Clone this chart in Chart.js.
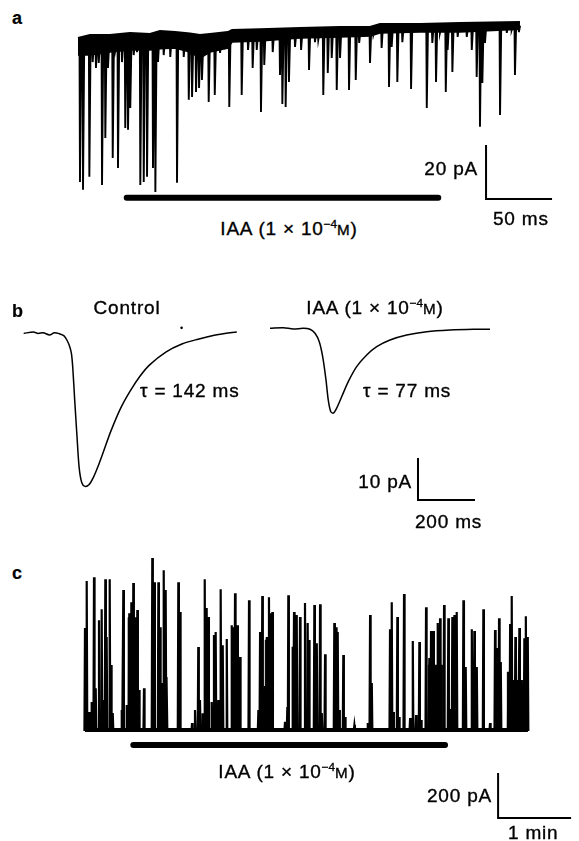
<!DOCTYPE html>
<html><head><meta charset="utf-8">
<script src="https://cdn.jsdelivr.net/npm/chart.js@4.4.1/dist/chart.umd.min.js"></script>
<style>
html,body{margin:0;padding:0;background:#fff;}
#fig{position:relative;width:579px;height:841px;overflow:hidden;font-family:"Liberation Sans",Arial,sans-serif;color:#000;}
#fig canvas{position:absolute;}
.t{position:absolute;font-size:19px;line-height:1;white-space:nowrap;letter-spacing:0.8px;z-index:5;-webkit-text-stroke:0.35px #000;}
.c{transform:translate(-50%,-50%);}
.l{transform:translate(0,-50%);}
.r{transform:translate(-100%,-50%);}
.p{font-weight:bold;font-size:18px;letter-spacing:0;-webkit-text-stroke:0.2px #000;}
.sup{font-size:0.62em;position:relative;top:-0.6em;letter-spacing:0;}
.sc{font-size:0.8em;}
</style></head><body>
<div id="fig">
<canvas id="ca"></canvas>
<canvas id="cb1"></canvas>
<canvas id="cb2"></canvas>
<canvas id="cc"></canvas>

<div class="t p l" style="left:12px;top:18px">a</div>
<div class="t r" style="left:478px;top:168px">20 pA</div>
<div class="t l" style="left:493px;top:218px">50 ms</div>
<div class="t c" style="left:289px;top:228px">IAA (1 × 10<span class="sup">−4</span><span class="sc">M</span>)</div>

<div class="t p l" style="left:12px;top:311px">b</div>
<div class="t c" style="left:127px;top:307px">Control</div>
<div class="t c" style="left:375px;top:307px">IAA (1 × 10<span class="sup">−4</span><span class="sc">M</span>)</div>
<div class="t l" style="left:140px;top:390px">τ = 142 ms</div>
<div class="t l" style="left:363px;top:390px">τ = 77 ms</div>
<div class="t r" style="left:412px;top:481px">10 pA</div>
<div class="t l" style="left:415px;top:521px">200 ms</div>

<div class="t p l" style="left:12px;top:573px">c</div>
<div class="t c" style="left:287px;top:771px">IAA (1 × 10<span class="sup">−4</span><span class="sc">M</span>)</div>
<div class="t r" style="left:492px;top:795px">200 pA</div>
<div class="t l" style="left:508px;top:832px">1 min</div>
</div>
<script>
// ---------------- DATA ----------------
// Panel a: miniature currents (time in ms, current in pA)
const aBandTime   = [0, 9.1, 24.2, 39.4, 54.5, 62.1, 73.5, 84.8, 92.4, 100, 113.6, 116.7, 137.9, 168.2, 198.5, 221.2, 228.8, 259.1, 289.4, 334.8];
const aBandTop    = [-5.2, -4.1, -4.1, -3.3, -3.7, -2.6, -3.0, -3.5, -4.1, -3.7, -3.0, -2.2, -1.9, -1.5, -1.1, -1.1, 0, 0, 0.4, 0.7];
const aBandBottom = [-11.5, -11.5, -10.4, -9.6, -9.6, -9.2, -8.9, -10.4, -12.6, -10.4, -8.9, -6.7, -6.3, -5.2, -4.8, -4.4, -3.3, -3.0, -3.0, -1.9];
const aEventTime  = [1.5, 3.8, 8.6, 13.6, 18.2, 20.7, 26.3, 30.3, 35.8, 37.9, 39.6, 47.2, 49.8, 52.3, 56.8, 58.6, 75, 83.9, 86.4, 89.4, 91.7, 99, 103.6, 114.6, 124, 128.8, 132.3, 138.6, 141.1, 147.5, 153, 154.8, 157.3, 159.8, 175, 185.8, 189.2, 196, 205.3, 210.4, 221.2, 230, 235.6, 241.9, 252.3, 264.2, 271.2, 278.6, 283.6, 298.3, 302, 304.5, 306.3, 319.7, 331];
const aEventPeak  = [-58.5, -61.4, -56.6, -16.3, -59.6, -42.2, -49.6, -53.3, -38.5, -39.2, -31.1, -59.6, -58.5, -56.6, -53.3, -62.2, -58.8, -28.1, -27.0, -25.2, -23.7, -28.9, -26.3, -30.7, -26.3, -9.6, -16.3, -32.6, -15.2, -10.4, -18.9, -29.6, -30.7, -21.5, -17.0, -26.3, -18.1, -24.4, -24.4, -20.7, -14.4, -8.9, -23.3, -21.5, -24.1, -31.1, -21.5, -25.2, -17.8, -9.6, -19.6, -38.1, -21.8, -33.7, -18.9];
const aSmallTime  = [11.1, 15.7, 22.7, 28.3, 33.3, 42.2, 44.7, 51.5, 60.6, 64.9, 69.9, 80.1, 93.9, 107.6, 111.4, 135.4, 164.4, 169, 179.5, 182, 192.2, 198.5, 213, 223.7, 237.6, 245.7, 268.4, 274.2, 280, 287.6, 294.5, 308.3, 324.8, 328.5, 334];
const aSmallPeak  = [-14.1, -14.4, -16.3, -9.6, -14.1, -11.5, -10.4, -12.6, -14.1, -11.5, -12.2, -12.2, -20.7, -10.7, -7.8, -9.6, -8.5, -9.6, -6.7, -5.9, -12.6, -12.6, -7.0, -4.1, -8.5, -6.7, -7.0, -3.3, -9.6, -4.8, -4.8, -7.0, -3.3, -2.2, -3.0];
const aDrugOn     = [36.9, 272.9];   // IAA application, ms
const aScaleSize  = [50, 20];        // ms, pA

// Panel b: averaged currents (time in ms, current in pA)
const bCtrlTime    = [0, 35.1, 52.6, 70.2, 93.7, 111.2, 128.8, 146.3, 157.9, 167.4, 173, 177.9, 184.9, 193, 201.1, 210.5, 222.1, 236.2, 251.6, 269.1, 292.3, 315.8, 350.9, 386, 421.1, 456.2, 514.8, 573, 631.6, 690.2, 748.5, 772];
const bCtrlCurrent = [-0.17, 0.17, -0.17, 0, -0.55, 0, -0.24, -0.79, -1.98, -3.57, -5.17, -8.73, -16.7, -25.4, -33.3, -36.9, -37.8, -37.4, -35.7, -32.9, -28.6, -24.2, -18.6, -14.3, -10.7, -7.9, -4.76, -2.78, -1.6, -0.64, 0, 0.17];
const bCtrlDot     = [572, 1.2];
const bIaaTime     = [0, 46.6, 81.7, 116.8, 140.3, 157.9, 172.9, 184.9, 196.5, 204.5, 213, 222.1, 234, 251.5, 274.7, 304.1, 339.3, 374.4, 421, 479.7, 549.8, 631.6, 713.4, 771.9];
const bIaaCurrent  = [0.40, 0.55, 0.24, 0.40, 0.17, -0.79, -2.78, -6.35, -11.9, -16.7, -19.4, -19.8, -18.6, -15.9, -12.3, -8.73, -5.95, -3.97, -2.38, -1.19, -0.40, 0, 0.17, 0.17];
const bScaleSize   = [200, 10];      // ms, pA

// Panel c: current events (time in s, amplitude in pA)
const cEventTime = [0, 1.4, 3.3, 5.5, 7.4, 8.8, 11.5, 13.7, 14.8, 16.7, 17.8, 20.3, 21.4, 22.8, 30.2, 31.5, 34.3, 36.4, 38.1, 39.7, 41.1, 43, 44.4, 48.5, 55.3, 57, 60.3, 61.7, 63, 64.7, 66.3, 67.2, 76.7, 78.1, 88, 90.4, 93.1, 94.5, 96.7, 98.4, 100, 101.4, 104.1, 106, 107.4, 109.6, 111.5, 113.2, 116.5, 120.6, 121.9, 123.3, 125.2, 127.4, 134.8, 142.5, 143.9, 145.7, 148, 149.4, 151.2, 152.6, 154, 164.4, 166.3, 167.1, 170.7, 171.8, 174, 176.7, 180.8, 183, 184.1, 188.5, 190.5, 193.2, 194.6, 197.3, 204.9, 206.3, 207.7, 209, 212.3, 213.7, 221.4, 232.4, 234.3, 235.7, 250.7, 252.1, 253.4, 256.7, 258.1, 262.2, 267.2, 269.4, 272.1, 274.8, 276.2, 280.3, 283, 284.4, 286.3, 287.7, 289.9, 291.8, 295.1, 298.6, 300, 301.9, 303.6, 305.5, 311, 312.9, 317.9, 320, 322, 327.4, 332.9, 337, 338.4, 340.3, 341.7, 348, 349.4, 350.7, 352.1, 353.7, 355.7, 357, 359, 361.1, 362.3, 363.9];
const cEventAmp  = [453, 662, 80, 124, 679, 186, 488, 537, 133, 670, 413, 670, 289, 75, 89, 622, 111, 519, 568, 653, 457, 533, 178, 186, 764, 657, 657, 457, 209, 710, 622, 235, 657, 524, 31, 89, 369, 133, 75, 670, 542, 502, 124, 422, 435, 133, 626, 377, 404, 466, 457, 608, 466, 324, 577, 89, 435, 595, 195, 413, 590, 519, 524, 36, 102, 599, 370, 524, 511, 502, 564, 475, 400, 555, 386, 559, 75, 337, 475, 457, 435, 89, 333, 58, 22, 31, 511, 209, 448, 568, 80, 502, 58, 604, 53, 395, 67, 391, 44, 546, 320, 440, 440, 289, 475, 497, 555, 497, 93, 502, 511, 524, 577, 280, 448, 440, 280, 537, 31, 444, 364, 497, 302, 258, 471, 595, 222, 413, 222, 453, 222, 408, 506, 413];
const cBurstStart = [35.3, 120.6, 148, 282, 337, 347, 360];
const cBurstEnd   = [42.7, 127, 154, 294, 342, 351, 364];
const cBurstLevel = [500, 324, 400, 289, 190, 258, 222];
const cTraceEnd   = 364;
const cDrugOn     = [39.7, 295.9];   // s
const cScaleSize  = [60, 200];       // s (1 min), pA

// ---------------- LAYOUT ----------------
const L = {
  a:  {left:70,  top:10,  w:500, h:200, x:[-6.06, 372.7], y:[-68.9, 5.19], scaleCorner:[309.1, -64.8], drugLevel:-64.4},
  b1: {left:10,  top:290, w:255, h:250, x:[-35.1, 859.6], y:[-50, 9.52]},
  b2: {left:265, top:290, w:255, h:250, x:[-17.5, 877.2], y:[-50, 9.52], scaleCorner:[519.3, -40.5]},
  c:  {left:75,  top:540, w:504, h:301, x:[-8.22, 406.0], y:[-493.3, 844.4], scaleCorner:[339.5, -391], drugLevel:-66.6}
};

// ---------------- HELPERS ----------------
function interp(xs, ys, x){
  if (x <= xs[0]) return ys[0];
  for (let i=1;i<xs.length;i++){ if (x <= xs[i]){ const f=(x-xs[i-1])/(xs[i]-xs[i-1]); return ys[i-1]+f*(ys[i]-ys[i-1]); } }
  return ys[ys.length-1];
}
const zip = (xs, ys) => xs.map((x,i)=>({x, y:ys[i]}));
function line(data, extra){ return Object.assign({data, borderColor:'#000', backgroundColor:'#000', borderWidth:1.5, pointRadius:0, tension:0, fill:false, spanGaps:false}, extra||{}); }
function scaleBar(corner, size){
  return line([{x:corner[0], y:corner[1]+size[1]}, {x:corner[0], y:corner[1]}, {x:corner[0]+size[0], y:corner[1]}], {borderWidth:2, borderJoinStyle:'miter', borderCapStyle:'butt'});
}
function drugBar(on, level, w){
  return line([{x:on[0], y:level}, {x:on[1], y:level}], {borderWidth:w, borderCapStyle:'round'});
}
function makeChart(id, box, datasets){
  const cv = document.getElementById(id);
  cv.width = box.w; cv.height = box.h;
  cv.style.left = box.left + 'px'; cv.style.top = box.top + 'px';
  cv.style.width = box.w + 'px'; cv.style.height = box.h + 'px';
  return new Chart(cv, {
    type:'line',
    data:{datasets},
    options:{
      responsive:false, animation:false, events:[], devicePixelRatio:1,
      layout:{padding:0},
      plugins:{legend:{display:false}, tooltip:{enabled:false}},
      scales:{
        x:{type:'linear', min:box.x[0], max:box.x[1], display:false},
        y:{type:'linear', min:box.y[0], max:box.y[1], display:false}
      }
    }
  });
}

// ---------------- PANEL A ----------------
const aEvents = aEventTime.map((t,i)=>[t, aEventPeak[i]])
  .concat(aSmallTime.map((t,i)=>[t, aSmallPeak[i]]))
  .sort((p,q)=>p[0]-q[0]);
const aSpikes = [];
aEvents.forEach(([t,p])=>{
  const b = (interp(aBandTime,aBandTop,t) + interp(aBandTime,aBandBottom,t)) / 2;
  aSpikes.push({x:t-0.35, y:b}, {x:t, y:p}, {x:t+0.9, y:b});
});
makeChart('ca', L.a, [
  line(zip(aBandTime, aBandTop), {borderWidth:2}),
  line(zip(aBandTime, aBandBottom), {borderWidth:1.5, fill:'-1'}),
  line(aSpikes, {borderWidth:1.9}),
  drugBar(aDrugOn, L.a.drugLevel, 6),
  scaleBar(L.a.scaleCorner, aScaleSize)
]);

// ---------------- PANEL B ----------------
makeChart('cb1', L.b1, [
  line(zip(bCtrlTime, bCtrlCurrent), {borderWidth:1.5, tension:0.3}),
  line([{x:bCtrlDot[0], y:bCtrlDot[1]}], {showLine:false, pointRadius:1.3, pointBorderWidth:0, pointBackgroundColor:'#000'})
]);
makeChart('cb2', L.b2, [
  line(zip(bIaaTime, bIaaCurrent), {borderWidth:1.5, tension:0.3}),
  scaleBar(L.b2.scaleCorner, bScaleSize)
]);

// ---------------- PANEL C ----------------
const cSpikes = [{x:0, y:0}];
cEventTime.forEach((t,i)=>{ cSpikes.push({x:t-0.45, y:0}, {x:t, y:cEventAmp[i]}, {x:t+0.45, y:0}); });
cSpikes.push({x:cTraceEnd, y:0});
const cBursts = [{x:0, y:0}];
cBurstStart.forEach((s,i)=>{ cBursts.push({x:s, y:0}, {x:s, y:cBurstLevel[i]}, {x:cBurstEnd[i], y:cBurstLevel[i]}, {x:cBurstEnd[i], y:0}); });
cBursts.push({x:cTraceEnd, y:0});
makeChart('cc', L.c, [
  line(cBursts, {borderWidth:0.5, fill:'origin'}),
  line([{x:0, y:0}, {x:cTraceEnd, y:0}], {borderWidth:4}),
  line(cSpikes, {borderWidth:2.2}),
  drugBar(cDrugOn, L.c.drugLevel, 6),
  scaleBar(L.c.scaleCorner, cScaleSize)
]);
</script>
</body></html>
